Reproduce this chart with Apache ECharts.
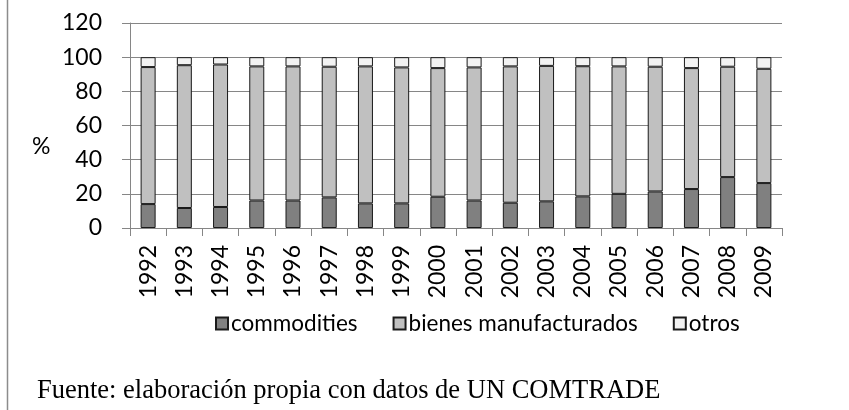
<!DOCTYPE html>
<html><head><meta charset="utf-8">
<script src="https://cdn.jsdelivr.net/npm/echarts@6/dist/echarts.min.js"></script>
<style>html,body{margin:0;padding:0;background:#fff}#c{width:849px;height:410px}</style>
</head><body><div id="c"></div>
<script>
var years = ['1992','1993','1994','1995','1996','1997','1998','1999','2000','2001','2002','2003','2004','2005','2006','2007','2008','2009'];
var commodities = [14.0,11.7,12.3,16.1,16.1,17.9,14.4,14.4,18.3,16.1,14.8,15.6,18.5,20.0,21.4,22.8,29.8,26.3];
var manufacturados = [80.2,83.6,83.4,78.5,78.5,76.5,80.2,79.6,75.3,77.9,79.8,79.3,76.2,74.6,73.0,70.8,64.6,66.9];
var otros = [5.8,4.7,4.3,5.4,5.4,5.6,5.4,6.0,6.4,6.0,5.4,5.1,5.3,5.4,5.6,6.4,5.6,6.8];
var yTicks = [0,20,40,60,80,100,120];

var font = 'Lato';
var chart = echarts.init(document.getElementById('c'));
function s(name, data, color){
  return {name:name,type:'bar',stack:'t',data:data,barWidth:15,
    itemStyle:{color:color,borderColor:'#1a1a1a',borderWidth:1}};
}
chart.setOption({
  animation:false,
  grid:{left:130,right:67,top:23,bottom:182,containLabel:false},
  legend:{top:307,left:210,itemWidth:12,itemHeight:12,itemGap:35,
    textStyle:{fontFamily:font,fontSize:22.5,color:'#000',padding:[0,0,0,-2]},
    data:[{name:'commodities',icon:'rect'},{name:'bienes manufacturados',icon:'rect'},{name:'otros',icon:'rect'}]},
  xAxis:{type:'category',data:years,
    axisLine:{lineStyle:{color:'#868686',width:1}},
    axisTick:{show:true,length:8,alignWithLabel:false,lineStyle:{color:'#868686'}},
    axisLabel:{rotate:90,margin:17,fontFamily:font,fontSize:23,color:'#000'}},
  yAxis:{type:'value',min:0,max:120,interval:20,
    axisLine:{show:true,lineStyle:{color:'#868686',width:1}},
    axisTick:{show:true,length:8,lineStyle:{color:'#868686'}},
    splitLine:{lineStyle:{color:'#868686',width:1}},
    axisLabel:{margin:28,fontFamily:font,fontSize:23,color:'#000',
      formatter:function(v){return yTicks.indexOf(v)>=0?String(v):'';}}},
  graphic:[
    {type:'line',shape:{x1:7.5,y1:0,x2:7.5,y2:410},style:{stroke:'#8c8c8c',lineWidth:1.5}},
    {type:'text',x:32,y:147,style:{text:'%',font:'23px Lato',fill:'#000',verticalAlign:'middle'}},
    {type:'text',x:37,y:391,style:{text:'Fuente: elaboración propia con datos de UN COMTRADE',font:'26.5px "Liberation Serif"',fill:'#000',verticalAlign:'middle'}}
  ],
  series:[
    s('commodities',commodities,'#808080'),
    s('bienes manufacturados',manufacturados,'#c0c0c0'),
    s('otros',otros,'#f2f2f2')
  ]
});
</script></body></html>
